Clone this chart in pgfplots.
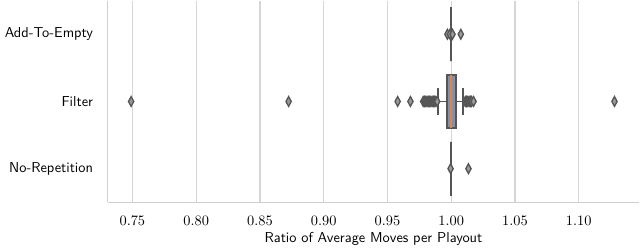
\documentclass[border=0pt]{standalone}
\usepackage{pgfplots}
\pgfplotsset{compat=1.18}
\usepgfplotslibrary{statistics}
\definecolor{edgegray}{HTML}{555555}
\definecolor{boxfill}{HTML}{8391A6}
\definecolor{medorange}{HTML}{DD8452}
\definecolor{gridgray}{HTML}{D6D6D6}
\definecolor{spinegray}{HTML}{CFCFCF}
\begin{document}
\begin{tikzpicture}
\begin{axis}[
  scale only axis,
  width=368.5bp, height=139.7bp,
  xmin=0.7305, xmax=1.1475,
  ymin=-0.5, ymax=2.5,
  xtick={0.75,0.80,0.85,0.90,0.95,1.00,1.05,1.10},
  xticklabel style={yshift=-6bp, /pgf/number format/fixed, /pgf/number format/fixed zerofill, /pgf/number format/precision=2},
  ytick={0,1,2},
  yticklabels={No-Repetition,Filter,Add-To-Empty},
  yticklabel style={font=\sffamily, xshift=-6.5bp},
  major tick length=0pt,
  xmajorgrids, grid style={gridgray, line width=0.9bp},
  axis x line*=bottom, axis y line*=left,
  axis line style={-, spinegray, line width=0.9bp},
  xlabel={\sffamily Ratio of Average Moves per Playout},
  xlabel style={yshift=2bp},
  clip=false,
]
% Add-To-Empty
\addplot[edgegray, line width=1.3bp,
  boxplot prepared={draw position=2, lower whisker=1.0, lower quartile=1.0,
    median=1.0, upper quartile=1.0, upper whisker=1.0,
    box extend=0.8, whisker extend=0.4,
    every box/.style={draw=edgegray, fill=boxfill, line width=1.3bp},
    every median/.style={draw=edgegray, line width=1.3bp}}]
  coordinates {};
% Filter
\addplot[edgegray, line width=1.3bp,
  boxplot prepared={draw position=1, lower whisker=0.9895, lower quartile=0.9965,
    median=1.0, upper quartile=1.0035, upper whisker=1.0095,
    box extend=0.8, whisker extend=0.4,
    every box/.style={draw=edgegray, fill=boxfill, line width=1.3bp},
    every median/.style={draw=medorange, line width=1.3bp}}]
  coordinates {};
% No-Repetition
\addplot[edgegray, line width=1.3bp,
  boxplot prepared={draw position=0, lower whisker=1.0, lower quartile=1.0,
    median=1.0, upper quartile=1.0, upper whisker=1.0,
    box extend=0.8, whisker extend=0.4,
    every box/.style={draw=edgegray, fill=boxfill, line width=1.3bp},
    every median/.style={draw=edgegray, line width=1.3bp}}]
  coordinates {};
% outliers
\addplot[only marks, mark=diamond*, mark size=3.4bp,
  mark options={draw=edgegray, fill=gray!80, line width=0.9bp, xscale=0.72}]
  coordinates {
  (0.997,2) (0.999,2) (1.001,2) (1.0075,2)
  (0.749,1) (0.8725,1) (0.958,1) (0.968,1)
  (0.978,1) (0.979,1) (0.980,1) (0.981,1) (0.982,1) (0.983,1) (0.984,1)
  (0.985,1) (0.986,1) (0.987,1) (0.988,1) (0.989,1)
  (1.011,1) (1.012,1) (1.013,1) (1.014,1) (1.015,1) (1.016,1) (1.0175,1)
  (1.128,1)
  (0.9995,0) (1.0135,0)
  };
\end{axis}
\end{tikzpicture}
\end{document}
